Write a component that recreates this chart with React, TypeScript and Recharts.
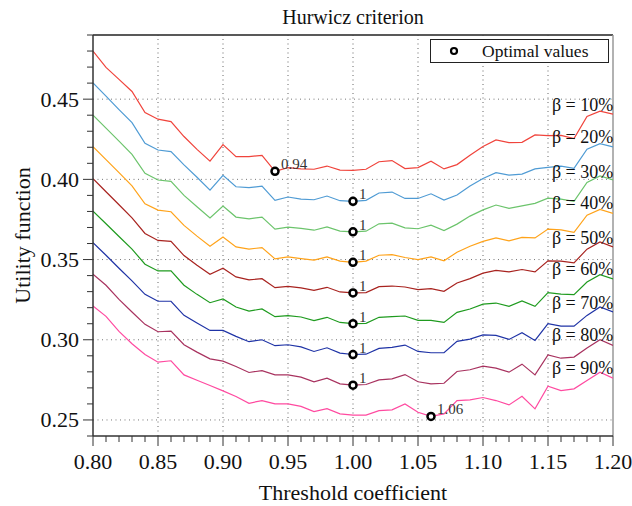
import React from 'react';
import { ComposedChart, Line, XAxis, YAxis, ReferenceLine, ReferenceDot } from 'recharts';

const FONT = '"Liberation Serif", "Times New Roman", serif';

// threshold coefficient 0.80 .. 1.20 step 0.01
const thresholds = Array.from({ length: 41 }, (_, i) => Math.round(80 + i) / 100);

const beta10 = [0.480, 0.4698, 0.4623, 0.4548, 0.4417, 0.4375, 0.436, 0.4267, 0.4187, 0.4113, 0.4217, 0.4142, 0.4142, 0.415, 0.405, 0.4073, 0.4065, 0.4063, 0.4083, 0.4058, 0.4056, 0.4063, 0.411, 0.4117, 0.4067, 0.4073, 0.4113, 0.4065, 0.4092, 0.415, 0.4205, 0.4246, 0.4229, 0.4231, 0.4277, 0.4273, 0.4274, 0.4254, 0.4392, 0.4425, 0.4407];
const beta20 = [0.4602, 0.4519, 0.4435, 0.4354, 0.4225, 0.4183, 0.4173, 0.409, 0.4013, 0.3933, 0.4025, 0.3954, 0.3948, 0.3958, 0.3869, 0.389, 0.3877, 0.3873, 0.3896, 0.3867, 0.3863, 0.3869, 0.3915, 0.3921, 0.3881, 0.3881, 0.391, 0.3871, 0.3902, 0.3958, 0.4005, 0.4042, 0.4027, 0.4033, 0.4065, 0.4075, 0.4083, 0.4069, 0.4188, 0.4223, 0.4202];
const beta30 = [0.44, 0.4319, 0.4238, 0.4156, 0.4038, 0.3996, 0.3988, 0.39, 0.3829, 0.376, 0.3833, 0.3765, 0.3754, 0.3765, 0.369, 0.3702, 0.3694, 0.3683, 0.3704, 0.3677, 0.3673, 0.3677, 0.3723, 0.3727, 0.3698, 0.3692, 0.3715, 0.3681, 0.3721, 0.3771, 0.381, 0.384, 0.3819, 0.3835, 0.385, 0.3883, 0.3877, 0.3863, 0.3981, 0.4021, 0.3996];
const beta40 = [0.4204, 0.4123, 0.4042, 0.396, 0.3848, 0.3808, 0.3798, 0.3713, 0.3646, 0.3583, 0.364, 0.3579, 0.3565, 0.3575, 0.3504, 0.3517, 0.3506, 0.3496, 0.3517, 0.349, 0.3483, 0.349, 0.3527, 0.3531, 0.3513, 0.35, 0.3517, 0.3492, 0.3546, 0.3583, 0.3613, 0.3635, 0.3617, 0.3638, 0.3635, 0.369, 0.3685, 0.3669, 0.3777, 0.3813, 0.3788];
const beta50 = [0.4004, 0.3923, 0.3842, 0.376, 0.3663, 0.3619, 0.3613, 0.3525, 0.3465, 0.3408, 0.3446, 0.3392, 0.3373, 0.3381, 0.3325, 0.3333, 0.3323, 0.3308, 0.3327, 0.3298, 0.3292, 0.3294, 0.3331, 0.3335, 0.3329, 0.3313, 0.3319, 0.3302, 0.3354, 0.3381, 0.3415, 0.3433, 0.3423, 0.3438, 0.3423, 0.3492, 0.349, 0.3479, 0.3565, 0.361, 0.3579];
const beta60 = [0.3802, 0.3723, 0.3644, 0.3565, 0.3471, 0.3429, 0.3429, 0.334, 0.3283, 0.3231, 0.3254, 0.3204, 0.3179, 0.3192, 0.3144, 0.315, 0.3142, 0.3119, 0.314, 0.3108, 0.31, 0.3102, 0.314, 0.3144, 0.3148, 0.3121, 0.3121, 0.3108, 0.3171, 0.3192, 0.3222, 0.3229, 0.3208, 0.3242, 0.3208, 0.3294, 0.3285, 0.3281, 0.336, 0.3406, 0.3379];
const beta70 = [0.3606, 0.3527, 0.3446, 0.3367, 0.3283, 0.324, 0.324, 0.3152, 0.3104, 0.3058, 0.3058, 0.3021, 0.2988, 0.3, 0.2963, 0.2969, 0.2956, 0.2927, 0.295, 0.2917, 0.2908, 0.291, 0.2946, 0.2952, 0.2967, 0.2927, 0.2919, 0.2919, 0.299, 0.3004, 0.303, 0.3027, 0.3002, 0.3044, 0.2996, 0.31, 0.3085, 0.3085, 0.3152, 0.3204, 0.3173];
const beta80 = [0.3408, 0.334, 0.3252, 0.3173, 0.3096, 0.305, 0.3054, 0.2969, 0.2923, 0.2881, 0.2867, 0.2833, 0.2796, 0.2808, 0.2781, 0.2781, 0.2767, 0.2738, 0.276, 0.2725, 0.2717, 0.2721, 0.275, 0.2756, 0.2783, 0.2738, 0.2725, 0.2729, 0.2802, 0.2813, 0.2835, 0.2823, 0.2798, 0.2848, 0.2781, 0.2906, 0.2885, 0.2892, 0.2948, 0.3, 0.2965];
const beta90 = [0.321, 0.3146, 0.3052, 0.2975, 0.2908, 0.286, 0.2869, 0.2781, 0.2748, 0.2715, 0.2681, 0.2646, 0.2604, 0.2621, 0.26, 0.26, 0.2585, 0.2552, 0.2571, 0.2538, 0.253, 0.253, 0.2558, 0.2563, 0.26, 0.2548, 0.2522, 0.2538, 0.2621, 0.2625, 0.264, 0.2621, 0.2594, 0.2648, 0.2569, 0.271, 0.2683, 0.2694, 0.2746, 0.2798, 0.276];

const seriesKeys = ['b10', 'b20', 'b30', 'b40', 'b50', 'b60', 'b70', 'b80', 'b90'];
const seriesValues = [beta10, beta20, beta30, beta40, beta50, beta60, beta70, beta80, beta90];
const seriesNames = ['β = 10%', 'β = 20%', 'β = 30%', 'β = 40%', 'β = 50%', 'β = 60%', 'β = 70%', 'β = 80%', 'β = 90%'];
const seriesColors = ['#f0443c', '#4f9bd4', '#6cc46c', '#ffa31a', '#a8231f', '#1f9b1f', '#1f33a6', '#a8325f', '#ff4aa0'];

// where the β labels sit (x, y in data units)
const nameLabelX = 1.153;
const nameLabelY = [0.4465, 0.4266, 0.4048, 0.3852, 0.3633, 0.344, 0.3227, 0.3027, 0.2821];

// optimal values
const optimalX = [0.94, 1.0, 1.0, 1.0, 1.0, 1.0, 1.0, 1.0, 1.06];
const optimalText = ['0.94', '1', '1', '1', '1', '1', '1', '1', '1.06'];

const xTicks = Array.from({ length: 41 }, (_, i) => Math.round(80 + i) / 100);
const yTicks = Array.from({ length: 26 }, (_, i) => Math.round(24 + i) / 100);
const xGrid = [0.85, 0.9, 0.95, 1.0, 1.05, 1.1, 1.15];
const yGrid = [0.25, 0.3, 0.35, 0.4, 0.45];
const xMax = 1.2;
const yMin = 0.24;
const yMax = 0.49;

const rows = thresholds.map((x, i) => {
  const row: any = { x };
  seriesKeys.forEach((k, s) => { row[k] = seriesValues[s][i]; });
  return row;
});

const isMajor = (v: number) => Math.round(v * 100) % 5 === 0;

const XTick = ({ x, y, payload }: any) => {
  const v = payload.value;
  const major = isMajor(v);
  return (
    <g>
      <line x1={x} x2={x} y1={y} y2={y + (major ? 10 : 6)} stroke="#333" strokeWidth={1} />
      {major && (
        <text x={x} y={y + 25} textAnchor="middle" dominantBaseline="central" fontFamily={FONT} fontSize={22} fill="#111">
          {v.toFixed(2)}
        </text>
      )}
    </g>
  );
};

const YTick = ({ x, y, payload }: any) => {
  const v = payload.value;
  const major = isMajor(v) && v >= 0.25 && v <= 0.45;
  return (
    <g>
      <line x1={x - (major ? 10 : 6)} x2={x} y1={y} y2={y} stroke="#333" strokeWidth={1} />
      {major && (
        <text x={x - 14} y={y} textAnchor="end" dominantBaseline="central" fontFamily={FONT} fontSize={22} fill="#111">
          {v.toFixed(2)}
        </text>
      )}
    </g>
  );
};

const XTitle = ({ viewBox }: any) => (
  <text x={viewBox.x + viewBox.width / 2} y={viewBox.y + 56} textAnchor="middle" dominantBaseline="central" fontFamily={FONT} fontSize={22} fill="#111">
    Threshold coefficient
  </text>
);

const YTitle = ({ viewBox }: any) => {
  const cx = 22;
  const cy = viewBox.y + viewBox.height / 2;
  return (
    <text x={cx} y={cy} transform={`rotate(-90 ${cx} ${cy})`} textAnchor="middle" dominantBaseline="central" fontFamily={FONT} fontSize={22} fill="#111">
      Utility function
    </text>
  );
};

const makeOptLabel = (text: string) => ({ viewBox }: any) => {
  const cx = viewBox.x + viewBox.width / 2;
  const cy = viewBox.y + viewBox.height / 2;
  return (
    <text x={cx + 6} y={cy - 7} textAnchor="start" dominantBaseline="central" fontFamily={FONT} fontSize={15} fill="#333">
      {text}
    </text>
  );
};

const makeNameLabel = (text: string) => ({ viewBox }: any) => (
  <text x={viewBox.x} y={viewBox.y} textAnchor="start" dominantBaseline="central" fontFamily={FONT} fontSize={18} fill="#111">
    {text}
  </text>
);

export default function App() {
  return (
    <div style={{ position: 'absolute', left: 0, top: 0, width: 632, height: 506, background: '#fff', fontFamily: FONT }}>
      <div style={{ position: 'absolute', left: 93, top: 4, width: 520, textAlign: 'center', fontSize: 20, lineHeight: '26px', color: '#111' }}>
        Hurwicz criterion
      </div>
      <ComposedChart width={632} height={506} data={rows} margin={{ top: 35, right: 19, bottom: 0, left: 0 }}>
        <XAxis
          dataKey="x"
          type="number"
          domain={[0.8, xMax]}
          ticks={xTicks}
          interval={0}
          allowDataOverflow
          height={70}
          tickSize={0}
          tickMargin={0}
          tickLine={false}
          tick={<XTick />}
          axisLine={{ stroke: '#333', strokeWidth: 1.5 }}
          label={{ value: 'Threshold coefficient', content: XTitle }}
        />
        <YAxis
          type="number"
          domain={[yMin, yMax]}
          ticks={yTicks}
          interval={0}
          allowDataOverflow
          width={93}
          tickSize={0}
          tickMargin={0}
          tickLine={false}
          tick={<YTick />}
          axisLine={{ stroke: '#333', strokeWidth: 1.5 }}
          label={{ value: 'Utility function', content: YTitle }}
        />
        {xGrid.map((g) => (
          <ReferenceLine key={'gx' + g} x={g} stroke="#666" strokeDasharray="1 3.5" />
        ))}
        {yGrid.map((g) => (
          <ReferenceLine key={'gy' + g} y={g} stroke="#777" strokeDasharray="1 3.5" />
        ))}
        <ReferenceLine y={yMax} stroke="#222" strokeWidth={1.5} />
        <ReferenceLine x={xMax} stroke="#999" strokeWidth={1.5} />
        {seriesKeys.map((k, s) => (
          <Line key={k} dataKey={k} name={seriesNames[s]} type="linear" stroke={seriesColors[s]} strokeWidth={1.2} dot={false} activeDot={false} isAnimationActive={false} />
        ))}
        {seriesNames.map((n, s) => (
          <ReferenceDot key={'n' + s} x={nameLabelX} y={nameLabelY[s]} r={0} fill="none" stroke="none" label={{ value: n, content: makeNameLabel(n) }} />
        ))}
        {optimalX.map((ox, s) => {
          const idx = thresholds.findIndex((t) => Math.abs(t - ox) < 1e-9);
          return (
            <ReferenceDot
              key={'o' + s}
              x={ox}
              y={seriesValues[s][idx]}
              r={3.5}
              fill="#fff"
              stroke="#000"
              strokeWidth={2.5}
              label={{ value: optimalText[s], content: makeOptLabel(optimalText[s]) }}
            />
          );
        })}
      </ComposedChart>
      <div style={{ position: 'absolute', left: 430, top: 39, width: 177, height: 22, border: '1.5px solid #222', background: '#fff' }}>
        <svg width={20} height={22} style={{ position: 'absolute', left: 13, top: 0 }}>
          <circle cx={10} cy={11} r={3} fill="#fff" stroke="#000" strokeWidth={2.2} />
        </svg>
        <span style={{ position: 'absolute', left: 51, top: 0, fontSize: 17.5, lineHeight: '22px', color: '#111', whiteSpace: 'nowrap' }}>
          Optimal values
        </span>
      </div>
    </div>
  );
}
